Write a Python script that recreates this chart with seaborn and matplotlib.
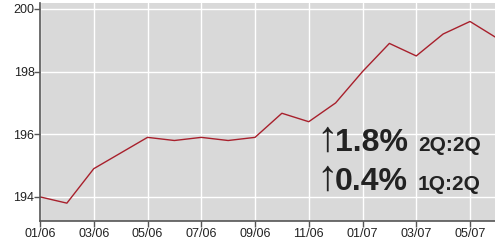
import matplotlib
matplotlib.use("Agg")
import matplotlib.pyplot as plt
import seaborn as sns
import pandas as pd

# monthly index values, 01/06 .. 06/07
months = ["01/06", "02/06", "03/06", "04/06", "05/06", "06/06", "07/06", "08/06", "09/06",
          "10/06", "11/06", "12/06", "01/07", "02/07", "03/07", "04/07", "05/07", "06/07"]
values = [194.0, 193.8, 194.9, 195.4, 195.9, 195.8, 195.9, 195.8, 195.9,
          196.67, 196.4, 197.0, 198.0, 198.9, 198.5, 199.2, 199.6, 199.07]
y_ticks = [194, 196, 198, 200]
changes = ["1.8%", "0.4%"]
change_labels = ["2Q:2Q", "1Q:2Q"]

df = pd.DataFrame({"idx": range(len(months)), "value": values})

sns.set_style("whitegrid", {
    "axes.facecolor": "#d9d9d9",
    "grid.color": "white",
    "axes.edgecolor": "#555555",
})
plt.rcParams["font.family"] = ["Liberation Sans", "DejaVu Sans"]

fig = plt.figure(figsize=(4.95, 2.48), dpi=100)
ax = fig.add_axes([40 / 495, 27 / 248, 1 - 40 / 495, 218 / 248])

sns.lineplot(data=df, x="idx", y="value", ax=ax, color="#a8202c", linewidth=1.0)

ax.set_xlim(0, 16.93)
ax.set_ylim(193.23, 200.19)
tick_pos = list(range(0, len(months), 2))
ax.set_xticks(tick_pos)
ax.set_xticklabels([months[i] for i in tick_pos], fontsize=9, color="#222222")
ax.set_yticks(y_ticks)
ax.set_yticklabels([str(t) for t in y_ticks], fontsize=9, color="#222222")
ax.tick_params(axis="both", length=4, width=1, color="#555555", pad=1, direction="out",
               bottom=True, left=True)
ax.tick_params(axis="y", pad=0)
ax.grid(True, color="white", linewidth=1)
ax.set_xlabel("")
ax.set_ylabel("")
for side in ["top", "right"]:
    ax.spines[side].set_visible(False)
for side in ["left", "bottom"]:
    ax.spines[side].set_linewidth(1.2)

# change annotations
for i, (pct, lab) in enumerate(zip(changes, change_labels)):
    base = 1 - (151 + 39 * i) / 248
    fig.text(316 / 495, base, "\u2191", fontsize=31, color="#222222", va="baseline")
    fig.text(335 / 495, base, pct, fontsize=23, fontweight="bold", color="#222222", va="baseline")
    fig.text(418 / 495, base, lab, fontsize=15, fontweight="bold", color="#222222", va="baseline")

fig.savefig("out.png", dpi=100)
